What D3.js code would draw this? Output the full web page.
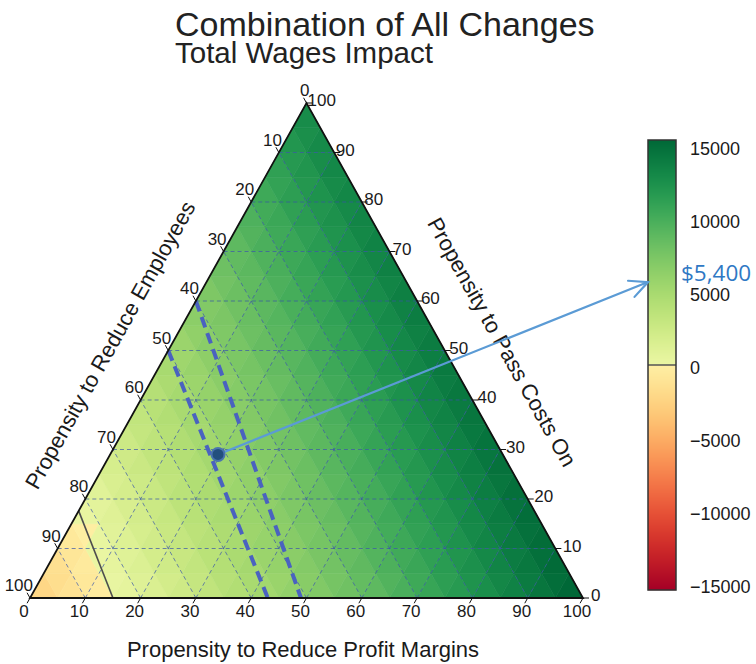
<!DOCTYPE html>
<html><head><meta charset="utf-8">
<script src="https://cdn.jsdelivr.net/npm/d3@7"></script>
<style>body{margin:0;background:#fff} svg{display:block}</style>
</head><body><svg id="c" width="756" height="664"></svg>
<script>
// ---------------- data ----------------
const titleText = "Combination of All Changes";
const subtitleText = "Total Wages Impact";
const bottomAxisLabel = "Propensity to Reduce Profit Margins";
const leftAxisLabel = "Propensity to Reduce Employees";
const rightAxisLabel = "Propensity to Pass Costs On";
const axisTicks = [0,10,20,30,40,50,60,70,80,90,100];
const colorbarTicks = [15000,10000,5000,0,-5000,-10000,-15000];
const colorbarExtent = 15400;
const gridStep = 5;
// total wages impact; one row per "pass costs on" level (0,5,...,100),
// values along "reduce profit margins" (0,5,...,100-pass)
const wageImpact = [
 [-2800,-1800,-900,0,900,1800,2800,3700,4600,5500,6500,7400,8300,9200,10200,11100,12000,12900,13900,14800,15700],
 [-2000,-1100,-100,800,1700,2600,3600,4500,5400,6300,7300,8200,9100,10000,11000,11900,12800,13700,14600,15600],
 [-1200,-300,700,1600,2500,3400,4300,5300,6200,7100,8000,9000,9900,10800,11700,12700,13600,14500,15400],
 [-400,500,1400,2400,3300,4200,5100,6100,7000,7900,8800,9800,10700,11600,12500,13500,14400,15300],
 [400,1300,2200,3200,4100,5000,5900,6800,7800,8700,9600,10500,11500,12400,13300,14200,15200],
 [1200,2100,3000,3900,4900,5800,6700,7600,8600,9500,10400,11300,12300,13200,14100,15000],
 [2000,2900,3800,4700,5600,6600,7500,8400,9300,10300,11200,12100,13000,14000,14900],
 [2700,3700,4600,5500,6400,7400,8300,9200,10100,11100,12000,12900,13800,14800],
 [3500,4500,5400,6300,7200,8100,9100,10000,10900,11800,12800,13700,14600],
 [4300,5200,6200,7100,8000,8900,9900,10800,11700,12600,13600,14500],
 [5100,6000,7000,7900,8800,9700,10600,11600,12500,13400,14300],
 [5900,6800,7700,8700,9600,10500,11400,12400,13300,14200],
 [6700,7600,8500,9500,10400,11300,12200,13100,14100],
 [7500,8400,9300,10200,11200,12100,13000,13900],
 [8300,9200,10100,11000,11900,12900,13800],
 [9000,10000,10900,11800,12700,13700],
 [9800,10800,11700,12600,13500],
 [10600,11500,12500,13400],
 [11400,12300,13300],
 [12200,13100],
 [13000]
];
// lines given as [profit, pass] points
const zeroContour = [[0,17.6],[15,0]];
const boundLineA = [[0,60],[49,0]];
const boundLineB = [[0,50],[43,0]];
const highlightPoint = [19.5,29];
const highlightValue = 5400;
const highlightLabel = "$5,400";

// ---------------- drawing ----------------
const svg = d3.select("#c");
const FONT = "'Liberation Sans', Arial, sans-serif";
const xS = d3.scaleLinear().domain([0,100]).range([30,583]);
const yS = d3.scaleLinear().domain([0,100]).range([598,103]);
const proj = (p,c) => [xS(p + c/2), yS(c)];

function color(v){
  const t = v >= 0 ? 0.55 + 0.45*Math.min(v,colorbarExtent)/colorbarExtent
                   : 0.45 + 0.45*Math.max(v,-colorbarExtent)/colorbarExtent;
  return d3.interpolateRdYlGn(t);
}

// heatmap cells
const n = 100/gridStep;
const val = (i,j) => wageImpact[j][i];
const cells = [];
for (let j=0;j<n;j++){
  for (let i=0;i<n-j;i++){
    cells.push([[i,j],[i+1,j],[i,j+1]]);
    if (i+j <= n-2) cells.push([[i+1,j],[i,j+1],[i+1,j+1]]);
  }
}
const line = d3.line();
svg.append("g").selectAll("path").data(cells).join("path")
  .attr("d", d => line(d.map(([i,j]) => proj(i*gridStep, j*gridStep))) + "Z")
  .attr("fill", d => color(d3.mean(d, ([i,j]) => val(i,j))))
  .attr("stroke", d => color(d3.mean(d, ([i,j]) => val(i,j))))
  .attr("stroke-width", 0.6);

// gridlines
const gl = [];
for (let k=10;k<100;k+=10){
  gl.push([proj(0,k), proj(100-k,k)]);
  gl.push([proj(k,0), proj(k,100-k)]);
  gl.push([proj(100-k,0), proj(0,100-k)]);
}
svg.append("g").selectAll("path").data(gl).join("path")
  .attr("d", d => line(d)).attr("fill","none")
  .attr("stroke","#3a55a8").attr("stroke-opacity",0.7)
  .attr("stroke-width",1).attr("stroke-dasharray","4,3");

// zero contour
svg.append("path").attr("d", line(zeroContour.map(d=>proj(d[0],d[1]))))
  .attr("fill","none").attr("stroke","#4d4d4d").attr("stroke-width",1.6);

// dashed bound lines
[boundLineA, boundLineB].forEach(L => {
  svg.append("path").attr("d", line(L.map(d=>proj(d[0],d[1]))))
    .attr("fill","none").attr("stroke","#4a62c0").attr("stroke-width",4)
    .attr("stroke-dasharray","11,6");
});

// border
svg.append("path").attr("d", line([proj(0,0),proj(100,0),proj(0,100)])+"Z")
  .attr("fill","none").attr("stroke","#111").attr("stroke-width",1.8)
  .attr("stroke-linejoin","miter");

// ticks & labels
const tg = svg.append("g").attr("font-family",FONT).attr("font-size",17).attr("fill","#1a1a1a");
const tl = 6;
const ang = Math.atan2(yS(100)-yS(0), xS(50)-xS(0)); // left edge angle
const ux = Math.cos(ang), uy = Math.sin(ang);
axisTicks.forEach(t => {
  // bottom (profit margins)
  let [x,y] = proj(t,0);
  tg.append("line").attr("x1",x).attr("y1",y).attr("x2",x-ux*tl).attr("y2",y-uy*tl).attr("stroke","#111");
  tg.append("text").attr("x",x-6).attr("y",y+19).attr("text-anchor","middle").text(t);
  // left (employees)
  [x,y] = proj(0,100-t);
  tg.append("line").attr("x1",x).attr("y1",y).attr("x2",x-ux*tl).attr("y2",y+uy*tl).attr("stroke","#111");
  tg.append("text").attr("x",x+3).attr("y",y-7).attr("text-anchor","end").text(t);
  // right (pass costs on)
  [x,y] = proj(100-t,t);
  tg.append("line").attr("x1",x).attr("y1",y).attr("x2",x+tl).attr("y2",y).attr("stroke","#111");
  tg.append("text").attr("x",x+1+7*(1-t/100)).attr("y",y+3).attr("text-anchor","start").text(t);
});

// axis titles
const at = svg.append("g").attr("font-family",FONT).attr("font-size",22).attr("fill","#1a1a1a");
at.append("text").attr("x",303).attr("y",657).attr("text-anchor","middle").text(bottomAxisLabel);
const angDeg = ang*180/Math.PI;
at.append("text").attr("transform",`translate(110,345) rotate(${angDeg})`)
  .attr("text-anchor","middle").attr("dy","0.35em").text(leftAxisLabel);
at.append("text").attr("transform",`translate(502,342) rotate(${-angDeg})`)
  .attr("text-anchor","middle").attr("dy","0.35em").text(rightAxisLabel);

// titles
svg.append("text").attr("x",175).attr("y",36).attr("font-family",FONT).attr("font-size",34)
  .attr("fill","#222").text(titleText);
svg.append("text").attr("x",175).attr("y",63).attr("font-family",FONT).attr("font-size",29.5)
  .attr("fill","#222").text(subtitleText);

// colorbar
const cbX = 648, cbW = 28, cbTop = 140, cbBot = 590;
const cbS = d3.scaleLinear().domain([-colorbarExtent,colorbarExtent]).range([cbBot,cbTop]);
const cb = svg.append("g");
cb.selectAll("rect").data(d3.range(cbTop,cbBot,1)).join("rect")
  .attr("x",cbX).attr("y",d=>d).attr("width",cbW).attr("height",1.2)
  .attr("fill",d=>color(cbS.invert(d+0.5)));
cb.append("line").attr("x1",cbX).attr("x2",cbX+cbW).attr("y1",cbS(0)).attr("y2",cbS(0))
  .attr("stroke","#555").attr("stroke-width",1.5);
cb.append("rect").attr("x",cbX).attr("y",cbTop).attr("width",cbW).attr("height",cbBot-cbTop)
  .attr("fill","none").attr("stroke","#333").attr("stroke-width",1.5);
cb.append("g").attr("font-family",FONT).attr("font-size",18).attr("fill","#1a1a1a")
  .selectAll("text").data(colorbarTicks).join("text")
  .attr("x",cbX+cbW+14).attr("y",d=>cbS(d)+3).attr("dy","0.35em")
  .text(d => String(d).replace("-","\u2212"));

// annotation arrow
const [dx,dy] = proj(highlightPoint[0],highlightPoint[1]);
const tipX = cbX, tipY = cbS(highlightValue) - 4;
const aAng = Math.atan2(tipY-dy, tipX-dx);
const hl = 20, ha = 0.45;
const ag = svg.append("g").attr("stroke","#5b9bd5").attr("stroke-width",2.2).attr("fill","none").attr("stroke-linecap","round");
ag.append("line").attr("x1",dx).attr("y1",dy).attr("x2",tipX).attr("y2",tipY);
ag.append("path").attr("d", line([
  [tipX - hl*Math.cos(aAng-ha), tipY - hl*Math.sin(aAng-ha)],
  [tipX, tipY],
  [tipX - hl*Math.cos(aAng+ha), tipY - hl*Math.sin(aAng+ha)]
]));
svg.append("circle").attr("cx",dx).attr("cy",dy).attr("r",6.5)
  .attr("fill","#23507e").attr("stroke","#4a74b0").attr("stroke-width",2);
svg.append("text").attr("x",681).attr("y",tipY-1).attr("font-family","'Open Sans', sans-serif")
  .attr("font-size",22.5).attr("fill","#2f78c4").text(highlightLabel);
</script>
</body></html>
